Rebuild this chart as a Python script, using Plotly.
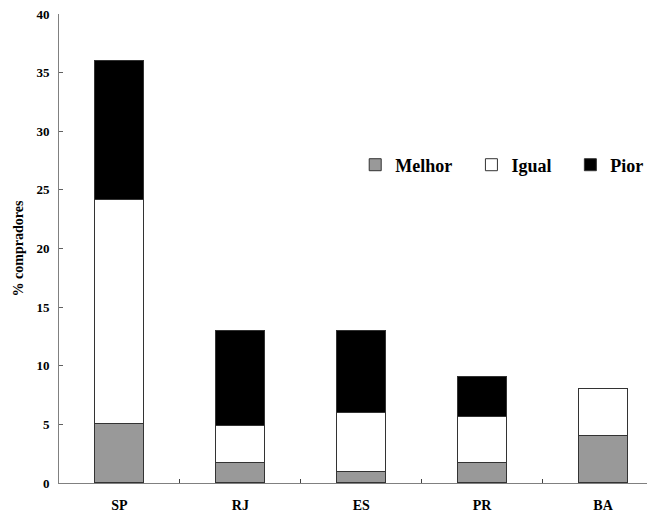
import plotly.graph_objects as go

categories = ["SP", "RJ", "ES", "PR", "BA"]
melhor = [5.0, 1.7, 0.9, 1.7, 4.0]
igual = [19.1, 3.15, 5.1, 3.95, 4.0]
pior = [11.9, 8.15, 7.0, 3.35, 0.0]
y_ticks = [0, 5, 10, 15, 20, 25, 30, 35, 40]

FONT = "Liberation Serif, Times New Roman, serif"
edge = dict(color="#333333", width=1)

fig = go.Figure()
fig.add_trace(go.Bar(x=categories, y=melhor, name="Melhor", marker=dict(color="#999999", line=edge),
                     width=0.405, legend="legend", showlegend=True))
fig.add_trace(go.Bar(x=categories, y=igual, name="Igual", marker=dict(color="#ffffff", line=edge),
                     width=0.405, legend="legend2", showlegend=True))
fig.add_trace(go.Bar(x=categories, y=pior, name="Pior", marker=dict(color="#000000", line=edge),
                     width=0.405, legend="legend3", showlegend=True))

leg_common = dict(orientation="h", yanchor="middle", xanchor="left", y=0.678,
                  bgcolor="rgba(0,0,0,0)", itemwidth=30, visible=True,
                  font=dict(family=FONT, size=18, color="black", weight="bold"))

# page body has an 8px margin: compensate so plot area lands at x 59..655, y 14..483.5
fig.update_layout(
    barmode="stack",
    showlegend=True,
    width=647, height=506,
    margin=dict(l=51, r=0, t=6, b=31, autoexpand=False),
    plot_bgcolor="white", paper_bgcolor="white",
    bargap=0,
    legend=dict(x=0.497, **leg_common),
    legend2=dict(x=0.692, **leg_common),
    legend3=dict(x=0.858, **leg_common),
    xaxis=dict(type="category", range=[-0.5, 4.43], showline=True, linecolor="#808080", linewidth=1,
               ticks="inside", tickson="boundaries", ticklen=4, tickcolor="#404040",
               ticklabelstandoff=9,
               tickfont=dict(family=FONT, size=14, color="black", weight="bold"),
               showgrid=False, zeroline=False),
    yaxis=dict(range=[0, 40], tickvals=y_ticks, showline=True, linecolor="#808080", linewidth=1,
               ticks="inside", ticklen=4, tickcolor="#606060",
               ticklabelstandoff=6, ticklabeloverflow="allow",
               tickfont=dict(family=FONT, size=13, color="black", weight="bold"),
               title=dict(text="% compradores", standoff=9,
                          font=dict(family=FONT, size=14, color="black", weight="bold")),
               showgrid=False, zeroline=False),
)

fig.write_html("out.html")
